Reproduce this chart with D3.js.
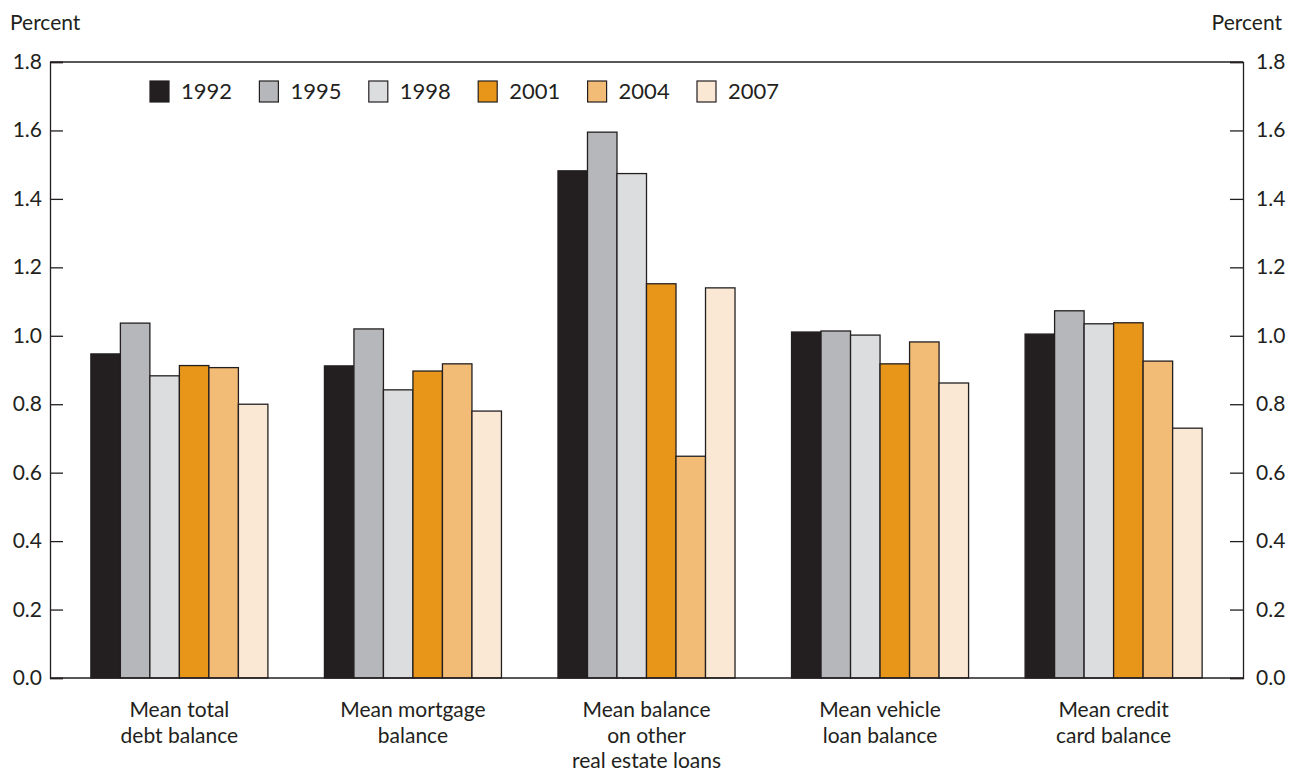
<!DOCTYPE html>
<html>
<head>
<meta charset="utf-8">
<script src="https://cdn.jsdelivr.net/npm/d3@7"></script>
<style>
  body { margin: 0; background: #fff; }
  text { font-family: Lato, "Open Sans", sans-serif; fill: #231f20; }
</style>
</head>
<body>
<svg id="chart"></svg>
<script>
const categories = [
    ["Mean total", "debt balance"],
    ["Mean mortgage", "balance"],
    ["Mean balance", "on other", "real estate loans"],
    ["Mean vehicle", "loan balance"],
    ["Mean credit", "card balance"]
];
const years = ["1992", "1995", "1998", "2001", "2004", "2007"];
const colors = ["#231f20", "#b6b7ba", "#dcdddf", "#e8961a", "#f3bc76", "#fae8d4"];
// one array per year, one value per category
const v1992 = [0.947, 0.912, 1.482, 1.011, 1.005];
const v1995 = [1.037, 1.020, 1.595, 1.014, 1.073];
const v1998 = [0.883, 0.842, 1.474, 1.002, 1.035];
const v2001 = [0.913, 0.897, 1.152, 0.918, 1.038];
const v2004 = [0.907, 0.918, 0.648, 0.982, 0.926];
const v2007 = [0.800, 0.780, 1.140, 0.862, 0.730];
const yTicks = [0, 0.2, 0.4, 0.6, 0.8, 1.0, 1.2, 1.4, 1.6, 1.8];

const series = [v1992, v1995, v1998, v2001, v2004, v2007];
const width = 1291, height = 771;
const plotLeft = 50, plotRight = 1243, plotTop = 62, plotBottom = 678;

const svg = d3.select("#chart").attr("width", width).attr("height", height);

const x0 = d3.scaleBand()
    .domain(d3.range(categories.length))
    .range([plotLeft, plotRight])
    .paddingInner(0.242)
    .paddingOuter(0.175);
const x1 = d3.scaleBand()
    .domain(years)
    .range([0, x0.bandwidth()]);
const y = d3.scaleLinear().domain([0, 1.8]).range([plotBottom, plotTop]);

// bars
const groups = svg.selectAll("g.grp")
    .data(categories)
    .enter()
    .append("g")
    .attr("class", "grp")
    .attr("transform", (d, i) => `translate(${x0(i)},0)`);

groups.selectAll("rect")
    .data((d, i) => years.map((yr, j) => ({ yr: yr, j: j, v: series[j][i] })))
    .enter()
    .append("rect")
    .attr("x", (d) => x1(d.yr))
    .attr("y", (d) => y(d.v))
    .attr("width", x1.bandwidth())
    .attr("height", (d) => plotBottom - y(d.v))
    .attr("fill", (d) => colors[d.j])
    .attr("stroke", "#231f20")
    .attr("stroke-width", 1.3);

// frame
svg.append("line").attr("x1", plotLeft).attr("x2", plotRight).attr("y1", plotTop).attr("y2", plotTop)
    .attr("stroke", "#231f20").attr("stroke-width", 1.3);
svg.append("line").attr("x1", plotLeft).attr("x2", plotRight).attr("y1", plotBottom).attr("y2", plotBottom)
    .attr("stroke", "#231f20").attr("stroke-width", 1.3);

// axes, ticks pointing inward
const yAxisL = d3.axisRight(y).tickValues(yTicks).tickSize(13).tickFormat("");
const yAxisR = d3.axisLeft(y).tickValues(yTicks).tickSize(13).tickFormat("");
svg.append("g").attr("transform", `translate(${plotLeft},0)`).call(yAxisL);
svg.append("g").attr("transform", `translate(${plotRight},0)`).call(yAxisR);
svg.selectAll(".domain, .tick line").attr("stroke", "#231f20").attr("stroke-width", 1.3);

// tick labels
svg.selectAll("text.tl")
    .data(yTicks)
    .enter()
    .append("text")
    .attr("class", "tl")
    .attr("x", plotLeft - 8)
    .attr("y", (d) => y(d) + 7)
    .attr("text-anchor", "end")
    .attr("font-size", 21)
    .text((d) => d3.format(".1f")(d));
svg.selectAll("text.tr")
    .data(yTicks)
    .enter()
    .append("text")
    .attr("class", "tr")
    .attr("x", plotRight + 13)
    .attr("y", (d) => y(d) + 7)
    .attr("font-size", 21)
    .text((d) => d3.format(".1f")(d));

svg.append("text").attr("x", 10).attr("y", 30).attr("font-size", 21).text("Percent");
svg.append("text").attr("x", 1282).attr("y", 30).attr("font-size", 21)
    .attr("text-anchor", "end").text("Percent");

// category labels
categories.forEach((lines, i) => {
    const t = svg.append("text")
        .attr("x", x0(i) + x0.bandwidth() / 2)
        .attr("y", 717)
        .attr("text-anchor", "middle")
        .attr("font-size", 21);
    lines.forEach((ln, k) => {
        t.append("tspan")
            .attr("x", x0(i) + x0.bandwidth() / 2)
            .attr("dy", k === 0 ? 0 : 25.5)
            .text(ln);
    });
});

// legend
const legend = svg.selectAll("g.leg")
    .data(years)
    .enter()
    .append("g")
    .attr("class", "leg")
    .attr("transform", (d, i) => `translate(${150 + i * 109.4},81)`);
legend.append("rect")
    .attr("width", 19)
    .attr("height", 21)
    .attr("fill", (d, i) => colors[i])
    .attr("stroke", "#231f20")
    .attr("stroke-width", 1.2);
legend.append("text")
    .attr("x", 31)
    .attr("y", 18)
    .attr("font-size", 22)
    .text((d) => d);
</script>
</body>
</html>
